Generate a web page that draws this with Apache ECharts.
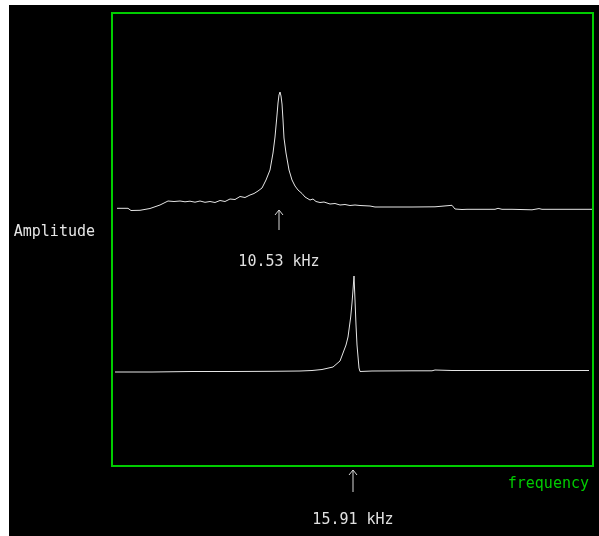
<!DOCTYPE html>
<html>
<head>
<meta charset="utf-8">
<script src="https://cdn.jsdelivr.net/npm/echarts@6/dist/echarts.min.js"></script>
<style>
  html, body { margin: 0; padding: 0; background: #fff; }
  #chart { position: absolute; left: 9px; top: 5px; width: 590px; height: 531px; }
</style>
</head>
<body>
<div id="chart"></div>
<script>
// upper spectrum (frequency units arbitrary)
var upperX = [5, 16, 19, 28, 38, 48, 56, 62, 68, 73, 78, 83, 88, 93, 98, 103, 108, 113, 118, 123, 128, 133, 138, 142, 146, 150, 154, 158, 161, 163, 165, 166, 167, 168, 169, 170, 171, 172, 174, 177, 180, 183, 186, 190, 193, 195, 198, 201, 204, 208, 212, 218, 223, 228, 233, 238, 243, 248, 258, 263, 280, 300, 323, 324, 340, 343, 350, 355, 383, 386, 390, 400, 420, 427, 430, 440, 460, 480];
var upperY = [257.7, 257.7, 255.5, 255.7, 257.5, 261, 265, 264.5, 265, 264.2, 264.8, 263.8, 265, 263.7, 264.5, 263.5, 265.5, 264.5, 267, 266.5, 269.5, 268.5, 271, 272.5, 275, 278, 286, 296, 313, 329, 351, 363, 371, 374, 370, 362, 346, 328, 313, 296, 286, 280, 276, 272.5, 269, 270, 266, 267, 264.5, 263.5, 264, 262, 262.5, 261, 261.5, 260.5, 261, 260.5, 260, 259, 259, 259, 259.2, 260.7, 260.7, 257, 256.5, 256.7, 256.7, 257.7, 256.7, 256.7, 256.2, 257.4, 256.7, 256.7, 256.7, 256.7];

// lower spectrum
var lowerX = [3, 40, 80, 120, 160, 188, 200, 210, 221, 228, 231, 234, 236, 238.7, 240, 241, 242, 243, 244, 245, 247, 248, 260, 300, 320, 323, 340, 400, 477];
var lowerY = [94, 94, 94.5, 94.5, 94.7, 95, 95.5, 96.5, 99, 105, 113, 121, 129, 149, 163, 176, 190, 166, 141, 121, 98, 94.5, 95, 95.2, 95.2, 96, 95.5, 95.5, 95.5];

// peak markers: arrow tip / tail and label height, same units as the traces
var peakX = [167, 241];
var arrowTip = [256, -4];
var arrowTail = [236, -26];
var labelY = [204, -54];
var peakLabels = ['10.53 kHz', '15.91 kHz'];

function pairs(xs, ys) {
  var out = [];
  xs.forEach(function (x, i) { out.push([x, ys[i]]); });
  return out;
}

var markers = peakX.map(function (x, i) {
  return [x, arrowTip[i], arrowTail[i], labelY[i]];
});

var font = "'DejaVu Sans Mono', monospace";
var myChart = echarts.init(document.getElementById('chart'));
var option = {
  backgroundColor: '#000',
  animation: false,
  grid: {
    left: 103,
    top: 8,
    right: 6,
    bottom: 70,
    show: true,
    borderColor: '#00cc00',
    borderWidth: 2
  },
  xAxis: {
    type: 'value',
    min: 0,
    max: 481,
    name: 'frequency',
    nameLocation: 'end',
    nameGap: -4,
    nameTextStyle: {
      color: '#00cc00',
      fontFamily: font,
      fontSize: 15,
      align: 'right',
      verticalAlign: 'top',
      padding: [11, 0, 0, 0]
    },
    axisLine: { show: false },
    axisTick: { show: false },
    axisLabel: { show: false },
    splitLine: { show: false }
  },
  yAxis: {
    type: 'value',
    min: 0,
    max: 453,
    name: 'Amplitude',
    nameLocation: 'middle',
    nameRotate: 0,
    nameGap: 17,
    nameTextStyle: {
      color: '#e6e6e6',
      fontFamily: font,
      fontSize: 15,
      verticalAlign: 'bottom'
    },
    axisLine: { show: false },
    axisTick: { show: false },
    axisLabel: { show: false },
    splitLine: { show: false }
  },
  series: [
    {
      type: 'line',
      data: pairs(upperX, upperY),
      showSymbol: false,
      lineStyle: { color: '#e6e6e6', width: 1 }
    },
    {
      type: 'line',
      data: pairs(lowerX, lowerY),
      showSymbol: false,
      lineStyle: { color: '#e6e6e6', width: 1 }
    },
    {
      type: 'custom',
      clip: false,
      data: markers,
      renderItem: function (params, api) {
        var x = api.value(0);
        var tip = api.coord([x, api.value(1)]);
        var tail = api.coord([x, api.value(2)]);
        var lab = api.coord([x, api.value(3)]);
        var st = { stroke: '#d8d8d8', lineWidth: 1, fill: null };
        return {
          type: 'group',
          children: [
            { type: 'line', shape: { x1: tip[0], y1: tip[1], x2: tail[0], y2: tail[1] }, style: st },
            { type: 'polyline', shape: { points: [[tip[0] - 4, tip[1] + 5], tip, [tip[0] + 4, tip[1] + 5]] }, style: st },
            {
              type: 'text',
              x: lab[0],
              y: lab[1],
              style: {
                text: peakLabels[params.dataIndex],
                fill: '#e0e0e0',
                font: '15px ' + font,
                align: 'center',
                verticalAlign: 'middle'
              }
            }
          ]
        };
      }
    }
  ]
};
myChart.setOption(option);
</script>
</body>
</html>
